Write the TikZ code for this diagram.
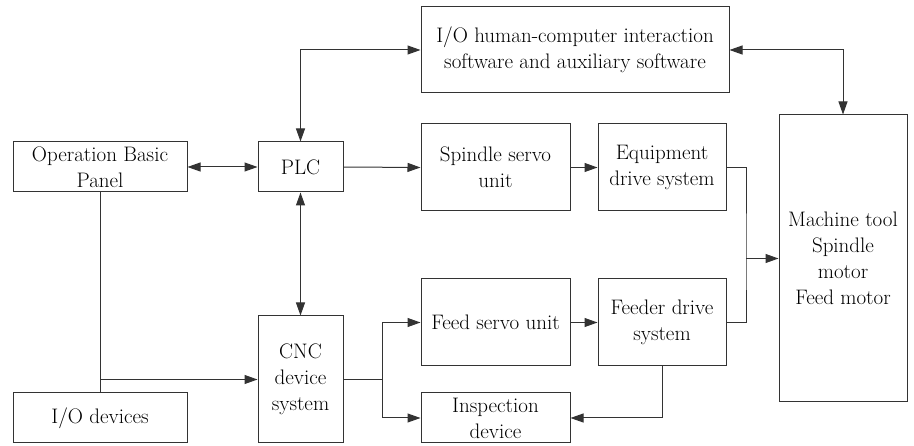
\documentclass[tikz,border=0pt]{standalone}
\usetikzlibrary{arrows.meta}
\begin{document}
\begin{tikzpicture}[x=1pt,y=-1pt,
  box/.style={draw=black!80,line width=1pt,inner sep=0pt,align=center,
    font=\fontsize{21}{26}\selectfont,text=black},
  conn/.style={draw=black!80,line width=1pt,-{Triangle[length=13pt,width=9pt]}},
  bi/.style={draw=black!80,line width=1pt,{Triangle[length=13pt,width=9pt]}-{Triangle[length=13pt,width=9pt]}},
  plain/.style={draw=black!80,line width=1pt}]
\useasboundingbox (0,0) rectangle (914,446);
\node[box,minimum width=308pt,minimum height=86pt] (io) at (575,50) {I/O human-computer interaction\\software and auxiliary software};
\node[box,minimum width=174pt,minimum height=50pt] (op) at (100,167) {Operation Basic\\Panel};
\node[box,minimum width=85pt,minimum height=50pt] (plc) at (300.5,167) {PLC};
\node[box,minimum width=149pt,minimum height=87pt] (sp) at (495.5,167.5) {Spindle servo\\unit};
\node[box,minimum width=128pt,minimum height=87pt] (eq) at (662,167.5) {Equipment\\drive system};
\node[box,minimum width=128pt,minimum height=287pt] (mt) at (843,258.5) {Machine tool\\Spindle\\motor\\Feed motor};
\node[box,minimum width=85pt,minimum height=127pt] (cnc) at (300.5,379.5) {CNC\\device\\system};
\node[box,minimum width=149pt,minimum height=87pt] (fs) at (495.5,322.5) {Feed servo unit};
\node[box,minimum width=128pt,minimum height=87pt] (fd) at (662,322.5) {Feeder drive\\system};
\node[box,minimum width=174pt,minimum height=50pt] (iod) at (100,418) {I/O devices};
\node[box,minimum width=149pt,minimum height=50pt] (insp) at (495.5,418) {Inspection\\device};
\coordinate (j1) at (100,379.5);
\coordinate (j3) at (382,379.5);
\coordinate (j2) at (746,258.5);
% connectors
\draw[bi] (plc.north) |- (io.west);
\draw[bi] (op.east) -- (plc.west);
\draw[conn] (plc.east) -- (sp.west);
\draw[conn] (sp.east) -- (eq.west);
\draw[bi] (io.east) -| (mt.north);
\draw[bi] (plc.south) -- (cnc.north);
\draw[plain] (op.south) -- (iod.north);
\draw[conn] (j1) -- (cnc.west);
\draw[plain] (cnc.east) -- (j3);
\draw[conn] (j3) |- (fs.west);
\draw[conn] (j3) |- (insp.west);
\draw[conn] (fs.east) -- (fd.west);
\draw[plain] (eq.east) -| (j2) |- (fd.east);
\draw[conn] (j2) -- (mt.west);
\draw[conn] (fd.south) |- (insp.east);
\end{tikzpicture}
\end{document}
